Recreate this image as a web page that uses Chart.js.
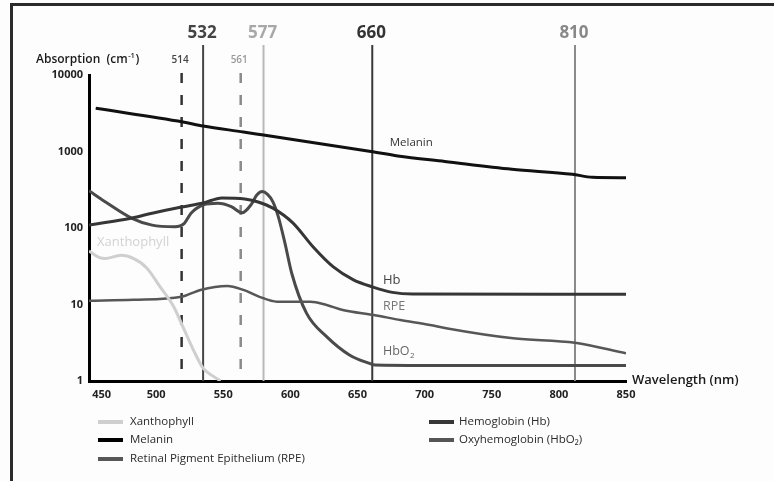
<!DOCTYPE html>
<html>
<head>
<meta charset="utf-8">
<title>Absorption spectra of ocular chromophores</title>
<script src="https://cdn.jsdelivr.net/npm/chart.js@4"></script>
<style>
  body { margin: 0; background: #fdfdfd; }
  canvas { display: block; }
</style>
</head>
<body>
<canvas id="myChart" width="774" height="481"></canvas>
<script>
"use strict"

// wavelength (nm) / absorption (cm-1)
const xantho_wl  = [450, 458, 462, 474, 483, 493, 503, 513, 520, 528, 535, 543, 548]
const xantho_abs = [50, 41, 40, 44, 40, 30, 17, 9.4, 5.1, 2.5, 1.47, 1.14, 1.0]

const melanin_wl  = [455, 520, 535, 565, 580, 660, 680, 715, 765, 810, 825, 850]
const melanin_abs = [3670, 2430, 2155, 1800, 1640, 1000, 875, 740, 585, 505, 460, 455]

const hb_wl  = [450, 462, 482, 497, 519, 535, 549, 566, 576, 587, 602, 617, 632, 647, 661, 676, 691, 850]
const hb_abs = [109, 118, 135, 156, 188, 212, 247, 239, 219, 182, 116, 56.5, 31, 21, 17, 14.4, 13.7, 13.6]

const hbo2_wl  = [450, 462, 482, 497, 514, 521, 526, 535, 546, 556, 564, 571, 575, 579, 583, 587, 591, 596, 601, 612, 627, 644, 659, 663, 700, 850]
const hbo2_abs = [307, 221, 134, 109, 104, 115, 156, 200, 210, 190, 158, 205, 270, 300, 275, 220, 141, 63, 25.6, 7.7, 3.8, 2.19, 1.7, 1.62, 1.6, 1.6]

const rpe_wl  = [450, 483, 519, 533, 553, 565, 577, 590, 615, 627, 639, 662, 682, 704, 716, 766, 812, 850]
const rpe_abs = [11.2, 11.5, 12.6, 15.5, 17.5, 15.5, 12.6, 10.9, 10.9, 9.85, 8.47, 7.29, 6.27, 5.4, 4.89, 3.61, 3.16, 2.3]

const x_ticks = [450, 500, 550, 600, 650, 700, 750, 800, 850]
const y_ticks = [1, 10, 100, 1000, 10000]

// laser lines: label text and where the line sits on the wavelength axis
const laser_labels = ['514', '532', '561', '577', '660', '810']
const laser_pos    = [519, 535, 563, 580, 661, 812]

const FONT = '"Open Sans", "DejaVu Sans", sans-serif'

function pairs(xs, ys){
    return xs.map((x, i) => ({x: x, y: ys[i]}))
}

function make_set(label, xs, ys, color, width, col){
    return {
        label: label,
        data: pairs(xs, ys),
        borderColor: color,
        borderWidth: width,
        pointRadius: 0,
        cubicInterpolationMode: 'monotone',
        fill: false,
        legendCol: col,
    }
}

// styles per laser line, same order as laser_labels
const laser_style = [
    {dash: true,  line: '#333333', text: '#444444', big: false},
    {dash: false, line: '#454545', text: '#444444', big: true},
    {dash: true,  line: '#8a8a8a', text: '#999999', big: false},
    {dash: false, line: '#b8b8b8', text: '#a8a8a8', big: true},
    {dash: false, line: '#383838', text: '#333333', big: true},
    {dash: false, line: '#8a8a8a', text: '#888888', big: true},
]

const frame_plugin = {
    id: 'frame',
    beforeDraw(chart){
        const c = chart.ctx
        c.save()
        c.fillStyle = '#fdfdfd'
        c.fillRect(0, 0, chart.width, chart.height)
        c.fillStyle = '#2b2b2b'
        c.fillRect(10, 3, chart.width - 10, 3)
        c.fillRect(10, 3, 3, chart.height - 3)
        c.restore()
    }
}

const laser_plugin = {
    id: 'lasers',
    beforeDatasetsDraw(chart){
        const c = chart.ctx
        const xs = chart.scales.x
        const bottom = chart.chartArea.bottom
        c.save()
        c.textAlign = 'center'
        c.textBaseline = 'middle'
        for (const [i, pos] of laser_pos.entries()){
            const st = laser_style[i]
            const px = xs.getPixelForValue(pos)
            const top = st.big ? 45 : 73
            c.beginPath()
            c.strokeStyle = st.line
            c.lineWidth = st.dash ? 2.5 : 2
            c.setLineDash(st.dash ? [10, 12] : [])
            c.moveTo(px, top)
            c.lineTo(px, bottom)
            c.stroke()
            c.setLineDash([])
            c.fillStyle = st.text
            if (st.big){
                c.font = 'bold 17px ' + FONT
                c.fillText(laser_labels[i], px - 1, 33)
            }else{
                c.font = '600 10px ' + FONT
                c.fillText(laser_labels[i], px - 1.5, 60)
            }
        }
        c.restore()
    }
}

// curve names written next to the curves (anchored in data units)
const curve_labels = [
    {text: 'Melanin',     wl: 674, abs: 1290, color: '#333333', size: 11.5},
    {text: 'Hb',          wl: 669, abs: 21,   color: '#444444', size: 13},
    {text: 'RPE',         wl: 669, abs: 9.3,  color: '#777777', size: 12.5},
    {text: 'HbO',         wl: 669, abs: 2.4,  color: '#666666', size: 12.5, sub: '2'},
    {text: 'Xanthophyll', wl: 456, abs: 66,   color: '#d2d2d2', size: 13},
]

const text_plugin = {
    id: 'texts',
    afterDraw(chart){
        const c = chart.ctx
        const xs = chart.scales.x
        const ys = chart.scales.y
        c.save()
        c.textBaseline = 'middle'
        c.textAlign = 'left'

        for (const lb of curve_labels){
            const px = xs.getPixelForValue(lb.wl)
            const py = ys.getPixelForValue(lb.abs)
            c.fillStyle = lb.color
            c.font = lb.size + 'px ' + FONT
            c.fillText(lb.text, px, py)
            if (lb.sub){
                const w = c.measureText(lb.text).width
                c.font = '8px ' + FONT
                c.fillText(lb.sub, px + w + 0.5, py + 4)
            }
        }

        // axis titles
        c.fillStyle = '#1a1a1a'
        c.font = '600 12px ' + FONT
        let t = 'Absorption  (cm'
        c.fillText(t, 36, 60)
        let w = c.measureText(t).width
        c.font = '600 7.5px ' + FONT
        c.fillText('-1', 36 + w + 0.5, 56)
        let w2 = c.measureText('-1').width
        c.font = '600 12px ' + FONT
        c.fillText(')', 36 + w + w2 + 1, 60)

        c.font = '600 13px ' + FONT
        c.fillText('Wavelength (nm)', 632, 380)

        // legend, two columns
        const cols = [{sw: 98, tx: 130}, {sw: 429, tx: 459}]
        const rows = [422, 440, 459]
        const count = [0, 0]
        c.font = '11.5px ' + FONT
        for (const ds of chart.data.datasets){
            const col = cols[ds.legendCol]
            const y = rows[count[ds.legendCol]++]
            c.fillStyle = ds.legendColor || ds.borderColor
            c.fillRect(col.sw, y - 2, 25, 4)
            c.fillStyle = '#2a2a2a'
            c.fillText(ds.label, col.tx, y)
        }
        c.restore()
    }
}

const ctx = document.getElementById('myChart')

const datasets = [
    make_set('Xanthophyll', xantho_wl, xantho_abs, '#cfcfcf', 3, 0),
    make_set('Melanin', melanin_wl, melanin_abs, '#111111', 3, 0),
    make_set('Retinal Pigment Epithelium (RPE)', rpe_wl, rpe_abs, '#575757', 2.5, 0),
    make_set('Hemoglobin (Hb)', hb_wl, hb_abs, '#363636', 3, 1),
    make_set('Oxyhemoglobin (HbO\u2082)', hbo2_wl, hbo2_abs, '#4a4a4a', 3, 1),
]
datasets[1].legendColor = '#000000'
datasets[4].legendColor = '#555555'

let spectra_chart = new Chart(ctx, {
    type: 'line',
    data: { datasets: datasets },
    options: {
        responsive: false,
        animation: false,
        devicePixelRatio: 1,
        layout: { padding: { top: 75, right: 148, bottom: 80, left: 0 } },
        plugins: {
            legend: { display: false },
            tooltip: { enabled: false },
        },
        scales: {
            x: {
                type: 'linear',
                min: 450,
                max: 850,
                grid: { display: false, drawTicks: false },
                border: { display: true, color: '#000000', width: 3 },
                afterBuildTicks: s => { s.ticks = x_ticks.map(v => ({value: v})) },
                afterFit: s => { s.height = 20 },
                ticks: {
                    padding: 7,
                    color: '#222222',
                    autoSkip: false,
                    maxRotation: 0,
                    font: { family: FONT, size: 11, weight: 'bold' },
                    // the first label is pushed clear of the y axis
                    callback: v => v === 450 ? '\u2007\u2007\u2007\u2007450' : String(v),
                },
            },
            y: {
                type: 'logarithmic',
                min: 1,
                max: 10000,
                grid: { display: false, drawTicks: false },
                border: { display: true, color: '#000000', width: 3 },
                afterBuildTicks: s => { s.ticks = y_ticks.map(v => ({value: v})) },
                afterFit: s => { s.width = 89 },
                ticks: {
                    padding: 6,
                    color: '#222222',
                    font: { family: FONT, size: 11, weight: 'bold' },
                    callback: v => String(v),
                },
            },
        },
    },
    plugins: [frame_plugin, laser_plugin, text_plugin],
})
</script>
</body>
</html>
